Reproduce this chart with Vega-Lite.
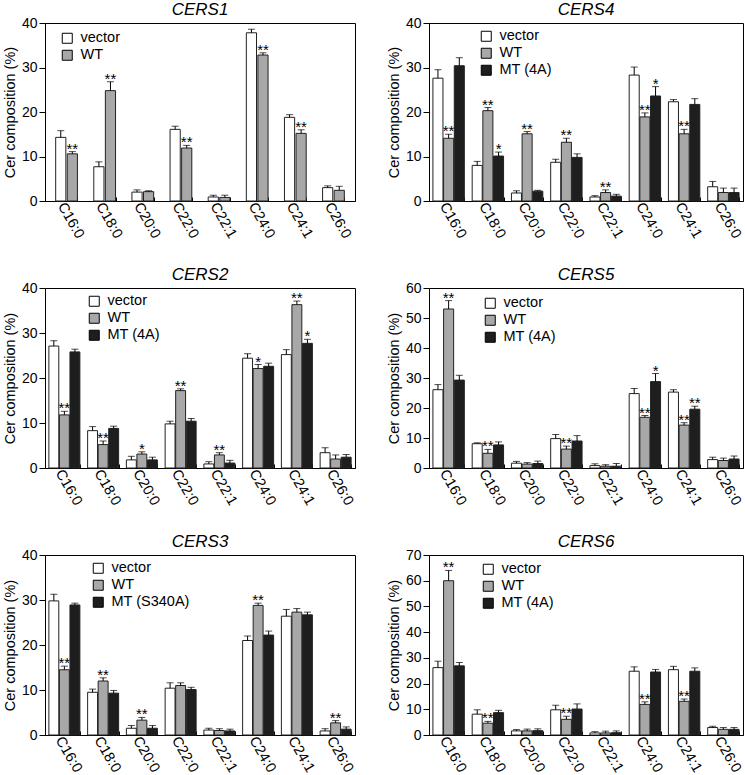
{
  "$schema": "https://vega.github.io/schema/vega-lite/v6.json",
  "padding": {"left": 1, "top": 0, "right": 0, "bottom": 0},
  "bounds": "flush",
  "datasets": {
    "cer": [
      {"panel":"CERS1","lipid":"C16:0","group":"vector","value":14.3,"hi":15.8,"sig":""},
      {"panel":"CERS1","lipid":"C16:0","group":"WT","value":10.6,"hi":11.1,"sig":"**"},
      {"panel":"CERS1","lipid":"C18:0","group":"vector","value":7.7,"hi":8.8,"sig":""},
      {"panel":"CERS1","lipid":"C18:0","group":"WT","value":24.8,"hi":26.8,"sig":"**"},
      {"panel":"CERS1","lipid":"C20:0","group":"vector","value":2.0,"hi":2.5,"sig":""},
      {"panel":"CERS1","lipid":"C20:0","group":"WT","value":2.1,"hi":2.3,"sig":""},
      {"panel":"CERS1","lipid":"C22:0","group":"vector","value":16.1,"hi":16.8,"sig":""},
      {"panel":"CERS1","lipid":"C22:0","group":"WT","value":11.9,"hi":12.5,"sig":"**"},
      {"panel":"CERS1","lipid":"C22:1","group":"vector","value":0.9,"hi":1.3,"sig":""},
      {"panel":"CERS1","lipid":"C22:1","group":"WT","value":0.8,"hi":1.3,"sig":""},
      {"panel":"CERS1","lipid":"C24:0","group":"vector","value":37.8,"hi":38.6,"sig":""},
      {"panel":"CERS1","lipid":"C24:0","group":"WT","value":32.8,"hi":33.3,"sig":"**"},
      {"panel":"CERS1","lipid":"C24:1","group":"vector","value":18.8,"hi":19.4,"sig":""},
      {"panel":"CERS1","lipid":"C24:1","group":"WT","value":15.2,"hi":16.0,"sig":"**"},
      {"panel":"CERS1","lipid":"C26:0","group":"vector","value":3.0,"hi":3.4,"sig":""},
      {"panel":"CERS1","lipid":"C26:0","group":"WT","value":2.4,"hi":3.3,"sig":""},

      {"panel":"CERS4","lipid":"C16:0","group":"vector","value":27.6,"hi":29.5,"sig":""},
      {"panel":"CERS4","lipid":"C16:0","group":"WT","value":14.1,"hi":15.0,"sig":"**"},
      {"panel":"CERS4","lipid":"C16:0","group":"MT (4A)","value":30.4,"hi":32.2,"sig":""},
      {"panel":"CERS4","lipid":"C18:0","group":"vector","value":8.0,"hi":8.9,"sig":""},
      {"panel":"CERS4","lipid":"C18:0","group":"WT","value":20.3,"hi":21.0,"sig":"**"},
      {"panel":"CERS4","lipid":"C18:0","group":"MT (4A)","value":10.1,"hi":11.0,"sig":"*"},
      {"panel":"CERS4","lipid":"C20:0","group":"vector","value":1.8,"hi":2.3,"sig":""},
      {"panel":"CERS4","lipid":"C20:0","group":"WT","value":15.1,"hi":15.6,"sig":"**"},
      {"panel":"CERS4","lipid":"C20:0","group":"MT (4A)","value":2.2,"hi":2.4,"sig":""},
      {"panel":"CERS4","lipid":"C22:0","group":"vector","value":8.7,"hi":9.4,"sig":""},
      {"panel":"CERS4","lipid":"C22:0","group":"WT","value":13.2,"hi":14.1,"sig":"**"},
      {"panel":"CERS4","lipid":"C22:0","group":"MT (4A)","value":9.8,"hi":10.6,"sig":""},
      {"panel":"CERS4","lipid":"C22:1","group":"vector","value":0.9,"hi":1.2,"sig":""},
      {"panel":"CERS4","lipid":"C22:1","group":"WT","value":1.9,"hi":2.5,"sig":"**"},
      {"panel":"CERS4","lipid":"C22:1","group":"MT (4A)","value":1.1,"hi":1.5,"sig":""},
      {"panel":"CERS4","lipid":"C24:0","group":"vector","value":28.3,"hi":30.1,"sig":""},
      {"panel":"CERS4","lipid":"C24:0","group":"WT","value":18.9,"hi":19.8,"sig":"**"},
      {"panel":"CERS4","lipid":"C24:0","group":"MT (4A)","value":23.6,"hi":25.7,"sig":"*"},
      {"panel":"CERS4","lipid":"C24:1","group":"vector","value":22.3,"hi":22.8,"sig":""},
      {"panel":"CERS4","lipid":"C24:1","group":"WT","value":15.1,"hi":16.1,"sig":"**"},
      {"panel":"CERS4","lipid":"C24:1","group":"MT (4A)","value":21.7,"hi":23.0,"sig":""},
      {"panel":"CERS4","lipid":"C26:0","group":"vector","value":3.2,"hi":4.4,"sig":""},
      {"panel":"CERS4","lipid":"C26:0","group":"WT","value":1.9,"hi":2.9,"sig":""},
      {"panel":"CERS4","lipid":"C26:0","group":"MT (4A)","value":1.9,"hi":2.9,"sig":""},

      {"panel":"CERS2","lipid":"C16:0","group":"vector","value":27.1,"hi":28.3,"sig":""},
      {"panel":"CERS2","lipid":"C16:0","group":"WT","value":11.8,"hi":12.6,"sig":"**"},
      {"panel":"CERS2","lipid":"C16:0","group":"MT (4A)","value":25.8,"hi":26.4,"sig":""},
      {"panel":"CERS2","lipid":"C18:0","group":"vector","value":8.3,"hi":9.2,"sig":""},
      {"panel":"CERS2","lipid":"C18:0","group":"WT","value":5.2,"hi":6.0,"sig":"**"},
      {"panel":"CERS2","lipid":"C18:0","group":"MT (4A)","value":8.8,"hi":9.3,"sig":""},
      {"panel":"CERS2","lipid":"C20:0","group":"vector","value":1.8,"hi":2.6,"sig":""},
      {"panel":"CERS2","lipid":"C20:0","group":"WT","value":3.1,"hi":3.6,"sig":"*"},
      {"panel":"CERS2","lipid":"C20:0","group":"MT (4A)","value":1.8,"hi":2.4,"sig":""},
      {"panel":"CERS2","lipid":"C22:0","group":"vector","value":9.8,"hi":10.4,"sig":""},
      {"panel":"CERS2","lipid":"C22:0","group":"WT","value":17.2,"hi":17.6,"sig":"**"},
      {"panel":"CERS2","lipid":"C22:0","group":"MT (4A)","value":10.4,"hi":11.0,"sig":""},
      {"panel":"CERS2","lipid":"C22:1","group":"vector","value":0.9,"hi":1.4,"sig":""},
      {"panel":"CERS2","lipid":"C22:1","group":"WT","value":2.9,"hi":3.4,"sig":"**"},
      {"panel":"CERS2","lipid":"C22:1","group":"MT (4A)","value":1.1,"hi":1.7,"sig":""},
      {"panel":"CERS2","lipid":"C24:0","group":"vector","value":24.4,"hi":25.4,"sig":""},
      {"panel":"CERS2","lipid":"C24:0","group":"WT","value":22.1,"hi":23.0,"sig":"*"},
      {"panel":"CERS2","lipid":"C24:0","group":"MT (4A)","value":22.6,"hi":23.3,"sig":""},
      {"panel":"CERS2","lipid":"C24:1","group":"vector","value":25.2,"hi":26.3,"sig":""},
      {"panel":"CERS2","lipid":"C24:1","group":"WT","value":36.3,"hi":37.1,"sig":"**"},
      {"panel":"CERS2","lipid":"C24:1","group":"MT (4A)","value":27.7,"hi":28.6,"sig":"*"},
      {"panel":"CERS2","lipid":"C26:0","group":"vector","value":3.4,"hi":4.5,"sig":""},
      {"panel":"CERS2","lipid":"C26:0","group":"WT","value":2.0,"hi":2.9,"sig":""},
      {"panel":"CERS2","lipid":"C26:0","group":"MT (4A)","value":2.4,"hi":3.0,"sig":""},

      {"panel":"CERS5","lipid":"C16:0","group":"vector","value":26.1,"hi":27.8,"sig":""},
      {"panel":"CERS5","lipid":"C16:0","group":"WT","value":53.0,"hi":55.8,"sig":"**"},
      {"panel":"CERS5","lipid":"C16:0","group":"MT (4A)","value":29.3,"hi":30.9,"sig":""},
      {"panel":"CERS5","lipid":"C18:0","group":"vector","value":8.1,"hi":8.4,"sig":""},
      {"panel":"CERS5","lipid":"C18:0","group":"WT","value":4.9,"hi":6.2,"sig":"**"},
      {"panel":"CERS5","lipid":"C18:0","group":"MT (4A)","value":7.7,"hi":8.7,"sig":""},
      {"panel":"CERS5","lipid":"C20:0","group":"vector","value":1.6,"hi":2.2,"sig":""},
      {"panel":"CERS5","lipid":"C20:0","group":"WT","value":1.3,"hi":1.8,"sig":""},
      {"panel":"CERS5","lipid":"C20:0","group":"MT (4A)","value":1.5,"hi":2.3,"sig":""},
      {"panel":"CERS5","lipid":"C22:0","group":"vector","value":9.8,"hi":11.2,"sig":""},
      {"panel":"CERS5","lipid":"C22:0","group":"WT","value":6.3,"hi":7.3,"sig":"**"},
      {"panel":"CERS5","lipid":"C22:0","group":"MT (4A)","value":9.0,"hi":10.8,"sig":""},
      {"panel":"CERS5","lipid":"C22:1","group":"vector","value":0.8,"hi":1.4,"sig":""},
      {"panel":"CERS5","lipid":"C22:1","group":"WT","value":0.6,"hi":1.1,"sig":""},
      {"panel":"CERS5","lipid":"C22:1","group":"MT (4A)","value":0.6,"hi":1.5,"sig":""},
      {"panel":"CERS5","lipid":"C24:0","group":"vector","value":24.8,"hi":26.5,"sig":""},
      {"panel":"CERS5","lipid":"C24:0","group":"WT","value":16.9,"hi":17.5,"sig":"**"},
      {"panel":"CERS5","lipid":"C24:0","group":"MT (4A)","value":28.8,"hi":31.5,"sig":"*"},
      {"panel":"CERS5","lipid":"C24:1","group":"vector","value":25.3,"hi":26.1,"sig":""},
      {"panel":"CERS5","lipid":"C24:1","group":"WT","value":14.3,"hi":15.1,"sig":"**"},
      {"panel":"CERS5","lipid":"C24:1","group":"MT (4A)","value":19.6,"hi":20.6,"sig":"**"},
      {"panel":"CERS5","lipid":"C26:0","group":"vector","value":2.8,"hi":3.6,"sig":""},
      {"panel":"CERS5","lipid":"C26:0","group":"WT","value":2.5,"hi":3.3,"sig":""},
      {"panel":"CERS5","lipid":"C26:0","group":"MT (4A)","value":3.0,"hi":4.0,"sig":""},

      {"panel":"CERS3","lipid":"C16:0","group":"vector","value":29.8,"hi":31.3,"sig":""},
      {"panel":"CERS3","lipid":"C16:0","group":"WT","value":14.5,"hi":15.3,"sig":"**"},
      {"panel":"CERS3","lipid":"C16:0","group":"MT (S340A)","value":28.9,"hi":29.3,"sig":""},
      {"panel":"CERS3","lipid":"C18:0","group":"vector","value":9.5,"hi":10.2,"sig":""},
      {"panel":"CERS3","lipid":"C18:0","group":"WT","value":12.0,"hi":12.7,"sig":"**"},
      {"panel":"CERS3","lipid":"C18:0","group":"MT (S340A)","value":9.3,"hi":9.9,"sig":""},
      {"panel":"CERS3","lipid":"C20:0","group":"vector","value":1.5,"hi":2.1,"sig":""},
      {"panel":"CERS3","lipid":"C20:0","group":"WT","value":3.3,"hi":3.9,"sig":"**"},
      {"panel":"CERS3","lipid":"C20:0","group":"MT (S340A)","value":1.5,"hi":2.1,"sig":""},
      {"panel":"CERS3","lipid":"C22:0","group":"vector","value":10.4,"hi":11.6,"sig":""},
      {"panel":"CERS3","lipid":"C22:0","group":"WT","value":11.0,"hi":11.6,"sig":""},
      {"panel":"CERS3","lipid":"C22:0","group":"MT (S340A)","value":10.1,"hi":10.6,"sig":""},
      {"panel":"CERS3","lipid":"C22:1","group":"vector","value":1.1,"hi":1.5,"sig":""},
      {"panel":"CERS3","lipid":"C22:1","group":"WT","value":1.0,"hi":1.4,"sig":""},
      {"panel":"CERS3","lipid":"C22:1","group":"MT (S340A)","value":0.9,"hi":1.3,"sig":""},
      {"panel":"CERS3","lipid":"C24:0","group":"vector","value":21.0,"hi":22.0,"sig":""},
      {"panel":"CERS3","lipid":"C24:0","group":"WT","value":28.8,"hi":29.3,"sig":"**"},
      {"panel":"CERS3","lipid":"C24:0","group":"MT (S340A)","value":22.2,"hi":23.1,"sig":""},
      {"panel":"CERS3","lipid":"C24:1","group":"vector","value":26.4,"hi":27.9,"sig":""},
      {"panel":"CERS3","lipid":"C24:1","group":"WT","value":27.3,"hi":28.1,"sig":""},
      {"panel":"CERS3","lipid":"C24:1","group":"MT (S340A)","value":26.7,"hi":27.3,"sig":""},
      {"panel":"CERS3","lipid":"C26:0","group":"vector","value":0.9,"hi":1.4,"sig":""},
      {"panel":"CERS3","lipid":"C26:0","group":"WT","value":2.7,"hi":3.2,"sig":"**"},
      {"panel":"CERS3","lipid":"C26:0","group":"MT (S340A)","value":1.3,"hi":1.8,"sig":""},

      {"panel":"CERS6","lipid":"C16:0","group":"vector","value":26.2,"hi":28.7,"sig":""},
      {"panel":"CERS6","lipid":"C16:0","group":"WT","value":60.0,"hi":64.0,"sig":"**"},
      {"panel":"CERS6","lipid":"C16:0","group":"MT (4A)","value":26.9,"hi":28.2,"sig":""},
      {"panel":"CERS6","lipid":"C18:0","group":"vector","value":8.1,"hi":9.8,"sig":""},
      {"panel":"CERS6","lipid":"C18:0","group":"WT","value":4.6,"hi":5.3,"sig":"**"},
      {"panel":"CERS6","lipid":"C18:0","group":"MT (4A)","value":8.7,"hi":9.6,"sig":""},
      {"panel":"CERS6","lipid":"C20:0","group":"vector","value":1.6,"hi":2.1,"sig":""},
      {"panel":"CERS6","lipid":"C20:0","group":"WT","value":1.6,"hi":2.3,"sig":""},
      {"panel":"CERS6","lipid":"C20:0","group":"MT (4A)","value":1.7,"hi":2.4,"sig":""},
      {"panel":"CERS6","lipid":"C22:0","group":"vector","value":9.8,"hi":11.6,"sig":""},
      {"panel":"CERS6","lipid":"C22:0","group":"WT","value":6.1,"hi":7.3,"sig":"**"},
      {"panel":"CERS6","lipid":"C22:0","group":"MT (4A)","value":10.1,"hi":12.1,"sig":""},
      {"panel":"CERS6","lipid":"C22:1","group":"vector","value":0.8,"hi":1.3,"sig":""},
      {"panel":"CERS6","lipid":"C22:1","group":"WT","value":0.8,"hi":1.5,"sig":""},
      {"panel":"CERS6","lipid":"C22:1","group":"MT (4A)","value":0.9,"hi":1.6,"sig":""},
      {"panel":"CERS6","lipid":"C24:0","group":"vector","value":24.8,"hi":26.5,"sig":""},
      {"panel":"CERS6","lipid":"C24:0","group":"WT","value":11.9,"hi":12.9,"sig":"**"},
      {"panel":"CERS6","lipid":"C24:0","group":"MT (4A)","value":24.5,"hi":25.5,"sig":""},
      {"panel":"CERS6","lipid":"C24:1","group":"vector","value":25.4,"hi":26.7,"sig":""},
      {"panel":"CERS6","lipid":"C24:1","group":"WT","value":13.1,"hi":14.0,"sig":"**"},
      {"panel":"CERS6","lipid":"C24:1","group":"MT (4A)","value":24.8,"hi":26.1,"sig":""},
      {"panel":"CERS6","lipid":"C26:0","group":"vector","value":2.9,"hi":3.4,"sig":""},
      {"panel":"CERS6","lipid":"C26:0","group":"WT","value":2.2,"hi":2.9,"sig":""},
      {"panel":"CERS6","lipid":"C26:0","group":"MT (4A)","value":2.2,"hi":2.9,"sig":""}
    ]
  },
  "columns": 2,
  "spacing": {"row": 87, "column": 74},
  "resolve": {
    "scale": {"x": "independent", "y": "independent", "xOffset": "independent", "color": "independent"},
    "legend": {"color": "independent"}
  },
  "concat": [
    {
      "title": "CERS1",
      "width": 310, "height": 178,
      "data": {"name": "cer"},
      "transform": [{"filter": "datum.panel == 'CERS1'"}],
      "encoding": {
        "x": {"field": "lipid", "type": "nominal", "sort": ["C16:0","C18:0","C20:0","C22:0","C22:1","C24:0","C24:1","C26:0"], "scale": {"paddingInner": 0.43, "paddingOuter": 0.28}, "axis": {"title": null}},
        "xOffset": {"field": "group", "type": "nominal", "sort": ["vector","WT"], "scale": {"paddingInner": 0.12}}
      },
      "layer": [
        {"mark": {"type": "bar", "stroke": "#222", "strokeWidth": 1},
         "encoding": {
           "y": {"field": "value", "type": "quantitative", "scale": {"domain": [0, 40], "nice": false}, "axis": {"values": [0,10,20,30,40], "title": "Cer composition (%)"}},
           "color": {"field": "group", "type": "nominal", "scale": {"domain": ["vector","WT"], "range": ["#ffffff","#a8a8a8"]}, "legend": {"title": null, "orient": "none", "legendX": 15, "legendY": 8}}
         }},
        {"mark": {"type": "rule", "color": "#000", "strokeWidth": 1},
         "encoding": {"y": {"field": "value", "type": "quantitative", "axis": {"values": [0,10,20,30,40], "title": "Cer composition (%)"}}, "y2": {"field": "hi"}}},
        {"mark": {"type": "tick", "color": "#000", "thickness": 1, "size": 7},
         "encoding": {"y": {"field": "hi", "type": "quantitative", "axis": {"values": [0,10,20,30,40], "title": "Cer composition (%)"}}}},
        {"transform": [{"filter": "datum.sig != ''"}],
         "mark": {"type": "text", "fontSize": 15, "baseline": "alphabetic", "dy": 2, "color": "#000"},
         "encoding": {"y": {"field": "hi", "type": "quantitative", "axis": {"values": [0,10,20,30,40], "title": "Cer composition (%)"}}, "text": {"field": "sig"}}}
      ]
    },
    {
      "title": "CERS4",
      "width": 314, "height": 178,
      "data": {"name": "cer"},
      "transform": [{"filter": "datum.panel == 'CERS4'"}],
      "encoding": {
        "x": {"field": "lipid", "type": "nominal", "sort": ["C16:0","C18:0","C20:0","C22:0","C22:1","C24:0","C24:1","C26:0"], "scale": {"paddingInner": 0.2, "paddingOuter": 0.1}, "axis": {"title": null}},
        "xOffset": {"field": "group", "type": "nominal", "sort": ["vector","WT","MT (4A)"], "scale": {"paddingInner": 0.06}}
      },
      "layer": [
        {"mark": {"type": "bar", "stroke": "#222", "strokeWidth": 1},
         "encoding": {
           "y": {"field": "value", "type": "quantitative", "scale": {"domain": [0, 40], "nice": false}, "axis": {"values": [0,10,20,30,40], "title": "Cer composition (%)"}},
           "color": {"field": "group", "type": "nominal", "scale": {"domain": ["vector","WT","MT (4A)"], "range": ["#ffffff","#a8a8a8","#1e1e1e"]}, "legend": {"title": null, "orient": "none", "legendX": 50, "legendY": 6}}
         }},
        {"mark": {"type": "rule", "color": "#000", "strokeWidth": 1},
         "encoding": {"y": {"field": "value", "type": "quantitative", "axis": {"values": [0,10,20,30,40], "title": "Cer composition (%)"}}, "y2": {"field": "hi"}}},
        {"mark": {"type": "tick", "color": "#000", "thickness": 1, "size": 7},
         "encoding": {"y": {"field": "hi", "type": "quantitative", "axis": {"values": [0,10,20,30,40], "title": "Cer composition (%)"}}}},
        {"transform": [{"filter": "datum.sig != ''"}],
         "mark": {"type": "text", "fontSize": 15, "baseline": "alphabetic", "dy": 2, "color": "#000"},
         "encoding": {"y": {"field": "hi", "type": "quantitative", "axis": {"values": [0,10,20,30,40], "title": "Cer composition (%)"}}, "text": {"field": "sig"}}}
      ]
    },
    {
      "title": "CERS2",
      "width": 310, "height": 180,
      "data": {"name": "cer"},
      "transform": [{"filter": "datum.panel == 'CERS2'"}],
      "encoding": {
        "x": {"field": "lipid", "type": "nominal", "sort": ["C16:0","C18:0","C20:0","C22:0","C22:1","C24:0","C24:1","C26:0"], "scale": {"paddingInner": 0.2, "paddingOuter": 0.1}, "axis": {"title": null}},
        "xOffset": {"field": "group", "type": "nominal", "sort": ["vector","WT","MT (4A)"], "scale": {"paddingInner": 0.06}}
      },
      "layer": [
        {"mark": {"type": "bar", "stroke": "#222", "strokeWidth": 1},
         "encoding": {
           "y": {"field": "value", "type": "quantitative", "scale": {"domain": [0, 40], "nice": false}, "axis": {"values": [0,10,20,30,40], "title": "Cer composition (%)"}},
           "color": {"field": "group", "type": "nominal", "scale": {"domain": ["vector","WT","MT (4A)"], "range": ["#ffffff","#a8a8a8","#1e1e1e"]}, "legend": {"title": null, "orient": "none", "legendX": 42, "legendY": 6}}
         }},
        {"mark": {"type": "rule", "color": "#000", "strokeWidth": 1},
         "encoding": {"y": {"field": "value", "type": "quantitative", "axis": {"values": [0,10,20,30,40], "title": "Cer composition (%)"}}, "y2": {"field": "hi"}}},
        {"mark": {"type": "tick", "color": "#000", "thickness": 1, "size": 7},
         "encoding": {"y": {"field": "hi", "type": "quantitative", "axis": {"values": [0,10,20,30,40], "title": "Cer composition (%)"}}}},
        {"transform": [{"filter": "datum.sig != ''"}],
         "mark": {"type": "text", "fontSize": 15, "baseline": "alphabetic", "dy": 2, "color": "#000"},
         "encoding": {"y": {"field": "hi", "type": "quantitative", "axis": {"values": [0,10,20,30,40], "title": "Cer composition (%)"}}, "text": {"field": "sig"}}}
      ]
    },
    {
      "title": "CERS5",
      "width": 314, "height": 180,
      "data": {"name": "cer"},
      "transform": [{"filter": "datum.panel == 'CERS5'"}],
      "encoding": {
        "x": {"field": "lipid", "type": "nominal", "sort": ["C16:0","C18:0","C20:0","C22:0","C22:1","C24:0","C24:1","C26:0"], "scale": {"paddingInner": 0.2, "paddingOuter": 0.1}, "axis": {"title": null}},
        "xOffset": {"field": "group", "type": "nominal", "sort": ["vector","WT","MT (4A)"], "scale": {"paddingInner": 0.06}}
      },
      "layer": [
        {"mark": {"type": "bar", "stroke": "#222", "strokeWidth": 1},
         "encoding": {
           "y": {"field": "value", "type": "quantitative", "scale": {"domain": [0, 60], "nice": false}, "axis": {"values": [0,10,20,30,40,50,60], "title": "Cer composition (%)"}},
           "color": {"field": "group", "type": "nominal", "scale": {"domain": ["vector","WT","MT (4A)"], "range": ["#ffffff","#a8a8a8","#1e1e1e"]}, "legend": {"title": null, "orient": "none", "legendX": 54, "legendY": 8}}
         }},
        {"mark": {"type": "rule", "color": "#000", "strokeWidth": 1},
         "encoding": {"y": {"field": "value", "type": "quantitative", "axis": {"values": [0,10,20,30,40,50,60], "title": "Cer composition (%)"}}, "y2": {"field": "hi"}}},
        {"mark": {"type": "tick", "color": "#000", "thickness": 1, "size": 7},
         "encoding": {"y": {"field": "hi", "type": "quantitative", "axis": {"values": [0,10,20,30,40,50,60], "title": "Cer composition (%)"}}}},
        {"transform": [{"filter": "datum.sig != ''"}],
         "mark": {"type": "text", "fontSize": 15, "baseline": "alphabetic", "dy": 2, "color": "#000"},
         "encoding": {"y": {"field": "hi", "type": "quantitative", "axis": {"values": [0,10,20,30,40,50,60], "title": "Cer composition (%)"}}, "text": {"field": "sig"}}}
      ]
    },
    {
      "title": "CERS3",
      "width": 310, "height": 180,
      "data": {"name": "cer"},
      "transform": [{"filter": "datum.panel == 'CERS3'"}],
      "encoding": {
        "x": {"field": "lipid", "type": "nominal", "sort": ["C16:0","C18:0","C20:0","C22:0","C22:1","C24:0","C24:1","C26:0"], "scale": {"paddingInner": 0.2, "paddingOuter": 0.1}, "axis": {"title": null}},
        "xOffset": {"field": "group", "type": "nominal", "sort": ["vector","WT","MT (S340A)"], "scale": {"paddingInner": 0.06}}
      },
      "layer": [
        {"mark": {"type": "bar", "stroke": "#222", "strokeWidth": 1},
         "encoding": {
           "y": {"field": "value", "type": "quantitative", "scale": {"domain": [0, 40], "nice": false}, "axis": {"values": [0,10,20,30,40], "title": "Cer composition (%)"}},
           "color": {"field": "group", "type": "nominal", "scale": {"domain": ["vector","WT","MT (S340A)"], "range": ["#ffffff","#a8a8a8","#1e1e1e"]}, "legend": {"title": null, "orient": "none", "legendX": 46, "legendY": 6}}
         }},
        {"mark": {"type": "rule", "color": "#000", "strokeWidth": 1},
         "encoding": {"y": {"field": "value", "type": "quantitative", "axis": {"values": [0,10,20,30,40], "title": "Cer composition (%)"}}, "y2": {"field": "hi"}}},
        {"mark": {"type": "tick", "color": "#000", "thickness": 1, "size": 7},
         "encoding": {"y": {"field": "hi", "type": "quantitative", "axis": {"values": [0,10,20,30,40], "title": "Cer composition (%)"}}}},
        {"transform": [{"filter": "datum.sig != ''"}],
         "mark": {"type": "text", "fontSize": 15, "baseline": "alphabetic", "dy": 2, "color": "#000"},
         "encoding": {"y": {"field": "hi", "type": "quantitative", "axis": {"values": [0,10,20,30,40], "title": "Cer composition (%)"}}, "text": {"field": "sig"}}}
      ]
    },
    {
      "title": "CERS6",
      "width": 314, "height": 180,
      "data": {"name": "cer"},
      "transform": [{"filter": "datum.panel == 'CERS6'"}],
      "encoding": {
        "x": {"field": "lipid", "type": "nominal", "sort": ["C16:0","C18:0","C20:0","C22:0","C22:1","C24:0","C24:1","C26:0"], "scale": {"paddingInner": 0.2, "paddingOuter": 0.1}, "axis": {"title": null}},
        "xOffset": {"field": "group", "type": "nominal", "sort": ["vector","WT","MT (4A)"], "scale": {"paddingInner": 0.06}}
      },
      "layer": [
        {"mark": {"type": "bar", "stroke": "#222", "strokeWidth": 1},
         "encoding": {
           "y": {"field": "value", "type": "quantitative", "scale": {"domain": [0, 70], "nice": false}, "axis": {"values": [0,10,20,30,40,50,60,70], "title": "Cer composition (%)"}},
           "color": {"field": "group", "type": "nominal", "scale": {"domain": ["vector","WT","MT (4A)"], "range": ["#ffffff","#a8a8a8","#1e1e1e"]}, "legend": {"title": null, "orient": "none", "legendX": 52, "legendY": 7}}
         }},
        {"mark": {"type": "rule", "color": "#000", "strokeWidth": 1},
         "encoding": {"y": {"field": "value", "type": "quantitative", "axis": {"values": [0,10,20,30,40,50,60,70], "title": "Cer composition (%)"}}, "y2": {"field": "hi"}}},
        {"mark": {"type": "tick", "color": "#000", "thickness": 1, "size": 7},
         "encoding": {"y": {"field": "hi", "type": "quantitative", "axis": {"values": [0,10,20,30,40,50,60,70], "title": "Cer composition (%)"}}}},
        {"transform": [{"filter": "datum.sig != ''"}],
         "mark": {"type": "text", "fontSize": 15, "baseline": "alphabetic", "dy": 2, "color": "#000"},
         "encoding": {"y": {"field": "hi", "type": "quantitative", "axis": {"values": [0,10,20,30,40,50,60,70], "title": "Cer composition (%)"}}, "text": {"field": "sig"}}}
      ]
    }
  ],
  "config": {
    "font": "Liberation Sans",
    "view": {"stroke": "#000", "strokeWidth": 1},
    "axis": {"labelFontSize": 14, "titleFontSize": 14.5, "titleFontWeight": "normal", "labelColor": "#000", "titleColor": "#000", "domainColor": "#000", "tickColor": "#000", "grid": false, "tickSize": 6, "labelPadding": 2, "titlePadding": 4, "labelOverlap": false},
    "axisX": {"labelAngle": 60, "labelAlign": "left", "labelBaseline": "top", "tickBand": "extent", "tickSize": -4, "labelPadding": 3, "labelFontSize": 14.5},
    "title": {"fontSize": 17, "fontStyle": "italic", "fontWeight": "normal", "offset": -3, "color": "#000"},
    "legend": {"symbolType": "square", "symbolSize": 100, "symbolStrokeColor": "#000", "symbolStrokeWidth": 1, "symbolOpacity": 1, "labelFontSize": 14.5, "labelColor": "#000", "rowPadding": 1, "labelOffset": 6}
  }
}
